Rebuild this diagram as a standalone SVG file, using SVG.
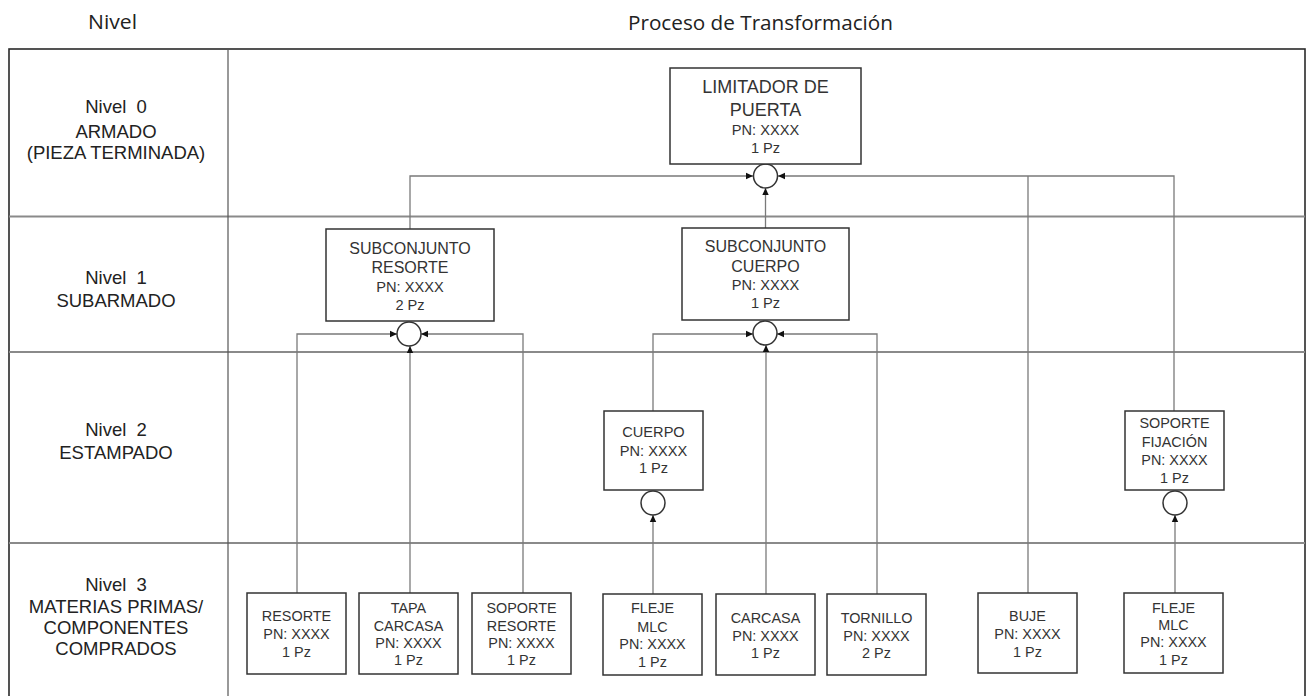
<svg xmlns="http://www.w3.org/2000/svg" width="1310" height="696" viewBox="0 0 1310 696">
<defs>
<style>
.bg{fill:#ffffff}
.frame{fill:none;stroke:#2a2a2a;stroke-width:1.6}
.row{stroke:#8a8a8a;stroke-width:1.8}
.col{stroke:#555;stroke-width:1.2}
.hdr{font-family:"Open Sans","Liberation Sans",sans-serif;font-size:20px;fill:#222}
.lvl{font-family:"Liberation Sans",Arial,sans-serif;font-size:18.5px;fill:#222;text-anchor:middle}
.box{fill:#fff;stroke:#333;stroke-width:1.5}
.t{font-family:"Liberation Sans",Arial,sans-serif;fill:#333;text-anchor:middle}
.t16{font-size:16px}
.t15{font-size:14.6px}
.t14{font-size:14.4px}
.t18{font-size:18px}
.con{fill:none;stroke:#7a7a7a;stroke-width:1.3}
.join{fill:#fff;stroke:#333;stroke-width:1.5}
</style>
<marker id="arr" markerWidth="8" markerHeight="8" refX="7" refY="4" orient="auto" markerUnits="userSpaceOnUse">
<path d="M0,0.8 L7,4 L0,7.2 Z" fill="#111"/>
</marker>
</defs>
<rect class="bg" x="0" y="0" width="1310" height="696"/>

<g id="headers">
<text class="hdr" x="88" y="29" textLength="49" lengthAdjust="spacingAndGlyphs">Nivel</text>
<text class="hdr" x="628" y="30" textLength="265" lengthAdjust="spacingAndGlyphs">Proceso de Transformación</text>
</g>

<g id="grid">
<rect class="frame" x="9" y="49" width="1296" height="660"/>
<line class="row" x1="9" y1="216.5" x2="1305" y2="216.5"/>
<line class="row" x1="9" y1="352" x2="1305" y2="352"/>
<line class="row" x1="9" y1="543" x2="1305" y2="543"/>
<line class="col" x1="228" y1="49" x2="228" y2="696"/>
</g>

<g id="level-labels">
<text class="lvl" x="116" y="113" word-spacing="5">Nivel 0</text>
<text class="lvl" x="116" y="138">ARMADO</text>
<text class="lvl" x="116" y="159">(PIEZA TERMINADA)</text>
<text class="lvl" x="116" y="284" word-spacing="5">Nivel 1</text>
<text class="lvl" x="116" y="307">SUBARMADO</text>
<text class="lvl" x="116" y="436" word-spacing="5">Nivel 2</text>
<text class="lvl" x="116" y="459">ESTAMPADO</text>
<text class="lvl" x="116" y="591" word-spacing="5">Nivel 3</text>
<text class="lvl" x="116" y="613">MATERIAS PRIMAS/</text>
<text class="lvl" x="116" y="634">COMPONENTES</text>
<text class="lvl" x="116" y="655">COMPRADOS</text>
</g>

<g id="connectors">
<path class="con" d="M410,229 V176 H753" marker-end="url(#arr)"/>
<path class="con" d="M1174,411 V176 H778" marker-end="url(#arr)"/>
<path class="con" d="M1028,593 V176"/>
<path class="con" d="M765.5,228 V188" marker-end="url(#arr)"/>
<path class="con" d="M297,593 V334 H397" marker-end="url(#arr)"/>
<path class="con" d="M410,593 V346" marker-end="url(#arr)"/>
<path class="con" d="M523,593 V334 H421" marker-end="url(#arr)"/>
<path class="con" d="M653,411 V334 H753" marker-end="url(#arr)"/>
<path class="con" d="M766,594 V345" marker-end="url(#arr)"/>
<path class="con" d="M877,594 V334 H777" marker-end="url(#arr)"/>
<path class="con" d="M653,594 V515" marker-end="url(#arr)"/>
<path class="con" d="M1175,593 V515" marker-end="url(#arr)"/>
<circle class="join" cx="765.5" cy="176" r="12"/>
<circle class="join" cx="409" cy="334" r="12"/>
<circle class="join" cx="765" cy="333" r="12"/>
<circle class="join" cx="653" cy="503" r="12"/>
<circle class="join" cx="1175" cy="503" r="12"/>
</g>

<g id="n-limitador">
<rect class="box" x="670" y="68" width="191" height="96"/>
<text class="t t18" x="765.5" y="93">LIMITADOR DE</text>
<text class="t t18" x="765.5" y="116">PUERTA</text>
<text class="t t15" x="765.5" y="135">PN: XXXX</text>
<text class="t t15" x="765.5" y="153">1 Pz</text>
</g>

<g id="n-sub-resorte">
<rect class="box" x="326" y="229" width="168" height="92"/>
<text class="t t16" x="410" y="254">SUBCONJUNTO</text>
<text class="t t16" x="410" y="273">RESORTE</text>
<text class="t t15" x="410" y="292">PN: XXXX</text>
<text class="t t15" x="410" y="310">2 Pz</text>
</g>

<g id="n-sub-cuerpo">
<rect class="box" x="682" y="228" width="167" height="92"/>
<text class="t t16" x="765.5" y="252">SUBCONJUNTO</text>
<text class="t t16" x="765.5" y="272">CUERPO</text>
<text class="t t15" x="765.5" y="290">PN: XXXX</text>
<text class="t t15" x="765.5" y="308">1 Pz</text>
</g>

<g id="n-cuerpo">
<rect class="box" x="604" y="411" width="99" height="79"/>
<text class="t t15" x="653.5" y="437">CUERPO</text>
<text class="t t15" x="653.5" y="456">PN: XXXX</text>
<text class="t t15" x="653.5" y="473">1 Pz</text>
</g>

<g id="n-soporte-fijacion">
<rect class="box" x="1125" y="411" width="99" height="79"/>
<text class="t t14" x="1174.5" y="428">SOPORTE</text>
<text class="t t14" x="1174.5" y="447">FIJACIÓN</text>
<text class="t t14" x="1174.5" y="465">PN: XXXX</text>
<text class="t t14" x="1174.5" y="483">1 Pz</text>
</g>

<g id="n-resorte">
<rect class="box" x="247" y="593" width="99" height="81"/>
<text class="t t14" x="296.5" y="621">RESORTE</text>
<text class="t t14" x="296.5" y="639">PN: XXXX</text>
<text class="t t14" x="296.5" y="657">1 Pz</text>
</g>

<g id="n-tapa-carcasa">
<rect class="box" x="359" y="593" width="99" height="81"/>
<text class="t t14" x="408.5" y="613">TAPA</text>
<text class="t t14" x="408.5" y="631">CARCASA</text>
<text class="t t14" x="408.5" y="648">PN: XXXX</text>
<text class="t t14" x="408.5" y="665">1 Pz</text>
</g>

<g id="n-soporte-resorte">
<rect class="box" x="472" y="593" width="99" height="81"/>
<text class="t t14" x="521.5" y="613">SOPORTE</text>
<text class="t t14" x="521.5" y="631">RESORTE</text>
<text class="t t14" x="521.5" y="648">PN: XXXX</text>
<text class="t t14" x="521.5" y="665">1 Pz</text>
</g>

<g id="n-fleje-1">
<rect class="box" x="603" y="594" width="99" height="81"/>
<text class="t t14" x="652.5" y="613">FLEJE</text>
<text class="t t14" x="652.5" y="632">MLC</text>
<text class="t t14" x="652.5" y="649">PN: XXXX</text>
<text class="t t14" x="652.5" y="667">1 Pz</text>
</g>

<g id="n-carcasa">
<rect class="box" x="716" y="594" width="99" height="81"/>
<text class="t t14" x="765.5" y="623">CARCASA</text>
<text class="t t14" x="765.5" y="641">PN: XXXX</text>
<text class="t t14" x="765.5" y="658">1 Pz</text>
</g>

<g id="n-tornillo">
<rect class="box" x="827" y="594" width="99" height="81"/>
<text class="t t14" x="876.5" y="623">TORNILLO</text>
<text class="t t14" x="876.5" y="641">PN: XXXX</text>
<text class="t t14" x="876.5" y="658">2 Pz</text>
</g>

<g id="n-buje">
<rect class="box" x="978" y="593" width="99" height="80"/>
<text class="t t14" x="1027.5" y="621">BUJE</text>
<text class="t t14" x="1027.5" y="639">PN: XXXX</text>
<text class="t t14" x="1027.5" y="657">1 Pz</text>
</g>

<g id="n-fleje-2">
<rect class="box" x="1124" y="593" width="99" height="80"/>
<text class="t t14" x="1173.5" y="613">FLEJE</text>
<text class="t t14" x="1173.5" y="630">MLC</text>
<text class="t t14" x="1173.5" y="647">PN: XXXX</text>
<text class="t t14" x="1173.5" y="665">1 Pz</text>
</g>
</svg>
